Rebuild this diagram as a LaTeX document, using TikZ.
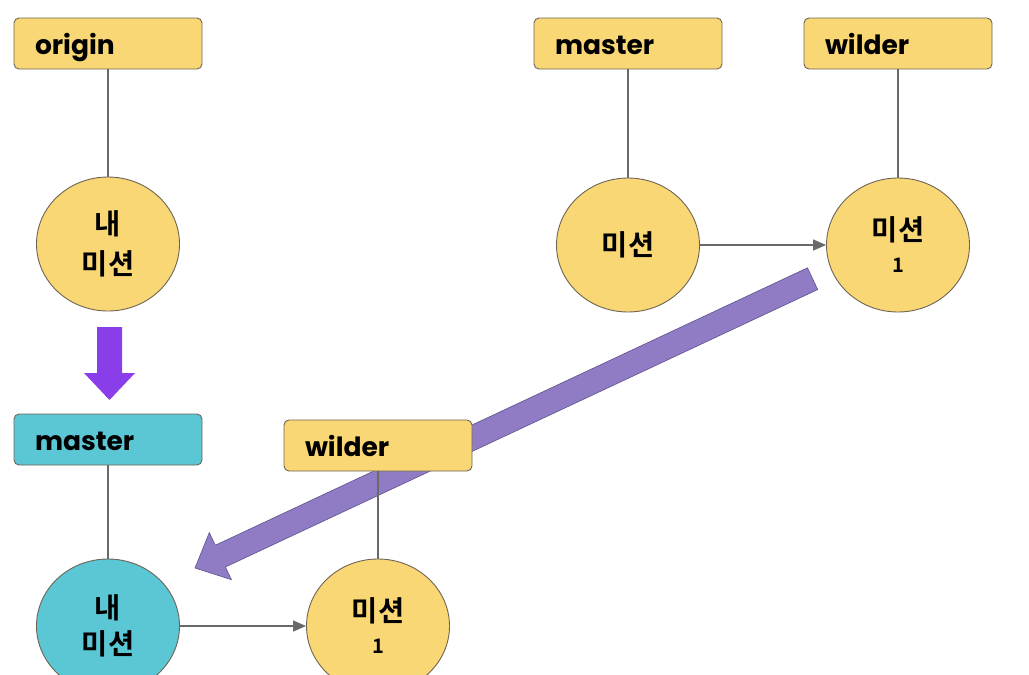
\documentclass[tikz,border=0pt]{standalone}
\usepackage{fontspec}
\setmainfont{Poppins}
\newfontfamily\kr{Noto Sans CJK KR}[BoldFont={Noto Sans CJK KR Bold}]
\usetikzlibrary{arrows.meta,shapes.geometric}
\definecolor{yel}{RGB}{250,215,117}
\definecolor{teal2}{RGB}{91,198,212}
\definecolor{edge}{RGB}{110,100,85}
\definecolor{conncol}{RGB}{105,105,105}
\definecolor{violet1}{RGB}{138,62,234}
\definecolor{lav}{RGB}{143,124,196}
\definecolor{lavdark}{RGB}{95,80,140}
\tikzset{
  x=1pt,y=-1pt,
  label box/.style={rectangle, rounded corners=5pt, draw=edge, line width=0.9pt,
    fill=yel, minimum height=51pt, inner xsep=21pt, inner ysep=0pt, text width=146pt,
    text height=22pt, text depth=0pt,
    align=left, font=\fontsize{26.5}{30}\selectfont\bfseries},
  commit/.style={ellipse, draw=edge, line width=0.9pt, fill=yel,
    minimum width=143pt, minimum height=134pt, inner sep=0pt, align=center,
    font=\kr\bfseries\fontsize{28.5}{40}\selectfont},
  conn/.style={draw=conncol, line width=1.3pt},
  connarrow/.style={conn, -{Triangle[length=13pt,width=11pt]}},
}
\begin{document}
\begin{tikzpicture}
\useasboundingbox (0,0) rectangle (1029,675);
% big lavender arrow (behind)
\begin{scope}[shift={(195,568)}, rotate=25.1]
  \path[fill=lav, draw=lavdark, line width=0.6pt]
    (0pt,0pt) -- (28pt,26pt) -- (28pt,12pt) -- (682pt,12pt) -- (682pt,-12pt)
    -- (28pt,-12pt) -- (28pt,-26pt) -- cycle;
\end{scope}
% nodes
\node[label box] (origin) at (108,43.5) {origin};
\node[label box] (mastertop) at (628,43.5) {master};
\node[label box] (wildertop) at (898,43.5) {wilder};
\node[label box, fill=teal2] (masterbot) at (108,439.5) {master};
\node[label box] (wilderbot) at (378,445.5) {wilder};

\node[commit] (mine1) at (108,244) {내\\미션};
\node[commit] (mis) at (628,245) {미션};
\node[commit] (mis1) at (898,245) {미션\\[-8pt]{\fontsize{20}{24}\selectfont 1}};
\node[commit, fill=teal2] (mine2) at (108,626) {내\\[-4pt]미션};
\node[commit] (mis2) at (378,626) {미션\\[-8pt]{\fontsize{20}{24}\selectfont 1}};

% connectors
\draw[conn] (origin) -- (mine1);
\draw[conn] (mastertop) -- (mis);
\draw[conn] (wildertop) -- (mis1);
\draw[conn] (masterbot) -- (mine2);
\draw[conn] (wilderbot) -- (mis2);
\draw[connarrow] (mis) -- (mis1);
\draw[connarrow] (mine2) -- (mis2);

% violet down arrow
\path[fill=violet1]
  (97,327) -- (122,327) -- (122,373) -- (135,373) -- (109.5,400)
  -- (84,373) -- (97,373) -- cycle;
\end{tikzpicture}
\end{document}
